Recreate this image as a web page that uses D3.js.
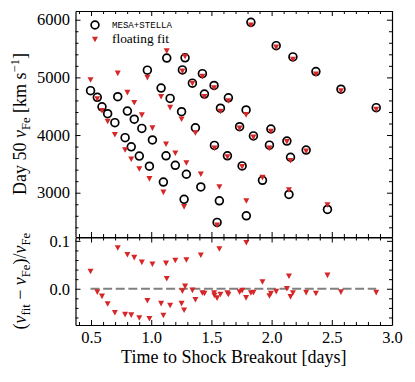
<!DOCTYPE html>
<html><head><meta charset="utf-8">
<script src="https://cdn.jsdelivr.net/npm/d3@7"></script>
<style>body{margin:0;background:#fff}svg{display:block}</style>
</head><body><svg id="c" width="415" height="382"></svg>
<script>
// ---- data ----
const tBreakout = [0.496,0.552,0.591,0.638,0.698,0.722,0.783,0.802,0.834,0.859,0.901,0.922,0.968,0.985,1.010,1.082,1.101,1.129,1.123,1.157,1.200,1.252,1.259,1.281,1.292,1.273,1.342,1.367,1.412,1.425,1.442,1.522,1.525,1.547,1.566,1.575,1.633,1.641,1.734,1.755,1.828,1.788,1.849,1.790,1.924,1.982,1.994,2.038,2.127,2.157,2.144,2.177,2.287,2.368,2.464,2.576,2.869];
const vMesa = [4770,4655,4490,4370,4215,4665,3955,4415,3795,4275,3635,4115,5125,3460,3915,4815,3185,5335,3640,4635,3475,4405,5130,5340,3320,2885,4900,4125,3100,5065,4710,4860,3820,2485,2860,4465,3640,4645,4145,3465,5955,4435,3985,2600,3215,3825,4105,5550,3895,3615,2970,5355,3740,5100,2710,4795,4475];
const vFit = [4955,4625,4420,4235,4005,5070,3740,4735,3580,4560,3410,4345,4995,3240,4120,4665,3005,5455,3840,4475,3685,4275,5105,5362,3515,2755,4895,4035,3320,5015,4665,4815,3770,2435,3100,4408,3620,4590,4115,3450,5905,4350,3960,2855,3262,3768,4062,5520,3885,3555,3046,5310,3720,5052,2786,4765,4442];
const residual = [0.036,-0.007,-0.016,-0.032,-0.050,0.085,-0.054,0.071,-0.055,0.065,-0.061,0.055,-0.025,-0.0625,0.051,-0.031,-0.056,0.021,0.053,-0.035,0.059,-0.031,-0.005,0.005,0.060,-0.045,-0.0035,-0.023,0.070,-0.009,-0.010,-0.009,-0.014,-0.0195,0.083,-0.012,-0.009,-0.012,-0.007,-0.004,-0.009,-0.019,-0.008,0.096,0.014,-0.015,-0.010,-0.006,0.000,-0.017,0.026,-0.009,-0.008,-0.010,0.028,-0.007,-0.008];
const xTicks = [0.5,1.0,1.5,2.0,2.5,3.0];
const yTopTicks = [3000,4000,5000,6000];
const yBotTicks = [0.0,0.1];
const legendLabels = ["MESA+STELLA","floating fit"];

// ---- layout ----
const L = 75.5, R = 392, T1 = 11, B1 = 237, T2 = 237.5, B2 = 325;
const RED = "#d62728";
const SERIF = "'Liberation Serif', 'Times New Roman', serif";
const svg = d3.select("#c");

const x = d3.scaleLinear().domain([0.371, 3.0]).range([L, R]);
const yTop = d3.scaleLinear().domain([2232, 6151]).range([B1, T1]);
const yBot = d3.scaleLinear().domain([-0.0757, 0.107]).range([B2, T2]);

const xMinor = d3.range(4, 31).map(d => d / 10).filter(d => Math.abs(d * 2 - Math.round(d * 2)) > 1e-6);
const yTopMinor = d3.range(2400, 6001, 200).filter(d => d % 1000 !== 0);
const yBotMinor = d3.range(-6, 11, 2).map(d => d / 100).filter(d => Math.abs(d * 10 - Math.round(d * 10)) > 1e-6);

function style(g, labels) {
  g.attr("font-family", SERIF).attr("font-size", 16.5);
  g.selectAll(".tick line").attr("stroke", "#000").attr("stroke-width", 1);
  g.selectAll(".domain").attr("stroke", "#000").attr("stroke-width", 1.2);
  g.selectAll("text").attr("fill", "#000");
  if (!labels) g.selectAll("text").remove();
}
function drawAxes(yS, yMaj, yMin, yFmt, topY, bottomY, xLabels) {
  const mk = (gen, tr, vals, size, labels, fmt) => {
    const a = gen.tickValues(vals).tickSize(-size).tickSizeOuter(0);
    if (fmt) a.tickFormat(fmt);
    const g = svg.append("g").attr("transform", tr).call(a);
    style(g, labels);
    if (size < 4) g.select(".domain").remove();
    return g;
  };
  mk(d3.axisBottom(x).tickPadding(6.5), `translate(0,${bottomY})`, xTicks, 5, xLabels, d3.format(".1f"));
  mk(d3.axisBottom(x), `translate(0,${bottomY})`, xMinor, 3, false);
  mk(d3.axisTop(x), `translate(0,${topY})`, xTicks, 5, false);
  mk(d3.axisTop(x), `translate(0,${topY})`, xMinor, 3, false);
  mk(d3.axisLeft(yS).tickPadding(5.5), `translate(${L},0)`, yMaj, 5, true, yFmt);
  mk(d3.axisLeft(yS), `translate(${L},0)`, yMin, 3, false);
  mk(d3.axisRight(yS), `translate(${R},0)`, yMaj, 5, false);
  mk(d3.axisRight(yS), `translate(${R},0)`, yMin, 3, false);
}

const idx = d3.range(tBreakout.length);
const triPath = (w, h) => `M${-w/2},${-h/2}L${w/2},${-h/2}L0,${h/2}Z`;

// ---- top panel ----
const topG = svg.append("g");
topG.selectAll("circle.m").data(idx).join("circle")
  .attr("class", "m")
  .attr("cx", i => x(tBreakout[i])).attr("cy", i => yTop(vMesa[i]))
  .attr("r", 3.9).attr("fill", "none").attr("stroke", "#000").attr("stroke-width", 1.7);
topG.selectAll("path.f").data(idx).join("path")
  .attr("class", "f")
  .attr("transform", i => `translate(${x(tBreakout[i])},${yTop(vFit[i])})`)
  .attr("d", triPath(6, 5.6)).attr("fill", RED);

// legend
const lg = svg.append("g");
lg.append("circle").attr("cx", 95).attr("cy", 25).attr("r", 3.9)
  .attr("fill", "none").attr("stroke", "#000").attr("stroke-width", 1.7);
lg.append("path").attr("transform", "translate(95,39.5)").attr("d", triPath(6, 5.6)).attr("fill", RED);
lg.append("text").attr("x", 112).attr("y", 28)
  .attr("font-family", "'Liberation Mono', 'DejaVu Sans Mono', monospace").attr("font-size", 9.1)
  .text(legendLabels[0]);
lg.append("text").attr("x", 112).attr("y", 43.3)
  .attr("font-family", SERIF).attr("font-size", 13.4)
  .text(legendLabels[1]);

drawAxes(yTop, yTopTicks, yTopMinor, d3.format("d"), T1, B1, false);

// ---- bottom panel ----
const botG = svg.append("g");
botG.append("line")
  .attr("x1", x(d3.min(tBreakout))).attr("x2", x(d3.max(tBreakout)))
  .attr("y1", yBot(0)).attr("y2", yBot(0))
  .attr("stroke", "#808080").attr("stroke-width", 2.2).attr("stroke-dasharray", "9,3.6");
botG.selectAll("path.r").data(idx).join("path")
  .attr("class", "r")
  .attr("transform", i => `translate(${x(tBreakout[i])},${yBot(residual[i])})`)
  .attr("d", triPath(6, 5.6)).attr("fill", RED);

drawAxes(yBot, yBotTicks, yBotMinor, d3.format(".1f"), T2, B2, true);

// ---- axis labels ----
svg.append("text").attr("x", (L + R) / 2).attr("y", 363)
  .attr("text-anchor", "middle").attr("font-family", SERIF).attr("font-size", 18)
  .text("Time to Shock Breakout [days]");

const yl = svg.append("text").attr("transform", `translate(26,${(T1 + B1) / 2}) rotate(-90)`)
  .attr("text-anchor", "middle").attr("font-family", SERIF).attr("font-size", 18);
yl.append("tspan").text("Day 50 ");
yl.append("tspan").attr("font-style", "italic").text("v");
yl.append("tspan").attr("font-size", 12.6).attr("dy", 3.5).text("Fe");
yl.append("tspan").attr("dy", -3.5).text(" [km s");
yl.append("tspan").attr("font-size", 12.6).attr("dy", -7).text("\u22121");
yl.append("tspan").attr("dy", 7).text("]");

const bl = svg.append("text").attr("transform", `translate(26,${(T2 + B2) / 2}) rotate(-90)`)
  .attr("text-anchor", "middle").attr("font-family", SERIF).attr("font-size", 18);
bl.append("tspan").text("(");
bl.append("tspan").attr("font-style", "italic").text("v");
bl.append("tspan").attr("font-size", 12.6).attr("dy", 3.5).text("fit");
bl.append("tspan").attr("dy", -3.5).text(" \u2212 ");
bl.append("tspan").attr("font-style", "italic").text("v");
bl.append("tspan").attr("font-size", 12.6).attr("dy", 3.5).text("Fe");
bl.append("tspan").attr("dy", -3.5).text(")/");
bl.append("tspan").attr("font-style", "italic").text("v");
bl.append("tspan").attr("font-size", 12.6).attr("dy", 3.5).text("Fe");
</script>
</body></html>
